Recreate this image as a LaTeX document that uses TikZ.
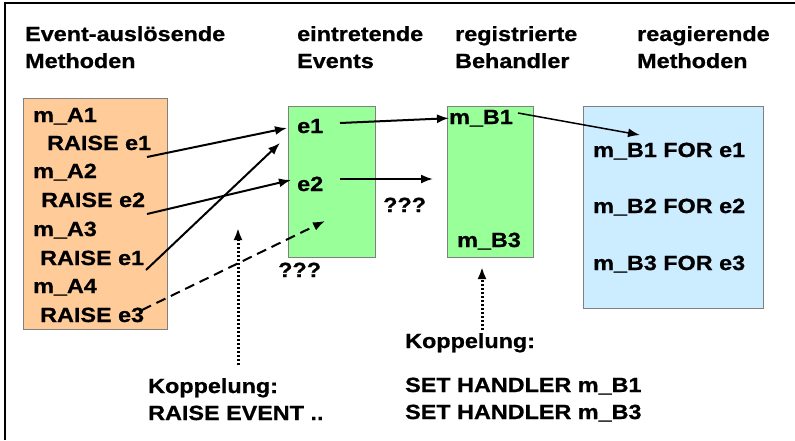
\documentclass[tikz,border=0pt]{standalone}
\usepackage{fontspec}
\setmainfont[FakeStretch=1.14, BoldFeatures={FakeBold=0.8}]{Liberation Sans}
\usetikzlibrary{arrows.meta}
\definecolor{methorange}{HTML}{FFCC99}
\definecolor{evgreen}{HTML}{99FF99}
\definecolor{reablue}{HTML}{CCECFF}
\tikzset{
  txt/.style={anchor=base west, inner sep=0pt, font=\fontsize{20.5}{24}\selectfont\bfseries},
  box/.style={draw=gray, line width=0.8pt, anchor=north west, inner sep=0pt},
  arr/.style={line width=2pt, -{Latex[length=12pt,width=9pt]}},
  dotarr/.style={arr, line width=3pt, dash pattern=on 2pt off 2pt},
}
\begin{document}
\begin{tikzpicture}[x=1pt, y=-1pt]
  \useasboundingbox (0,0) rectangle (795,440);
  \draw[line width=2pt] (5,440) -- (5,3) -- (795,3);
  %boxes
  \node[box, fill=methorange, minimum width=144, minimum height=231] (meth) at (23,98) {};
  \node[box, fill=evgreen, minimum width=87, minimum height=151] (events) at (288,106) {};
  \node[box, fill=evgreen, minimum width=86, minimum height=151] (handler) at (447,106) {};
  \node[box, fill=reablue, minimum width=180, minimum height=202] (react) at (583,106) {};
  %headings
  \node[txt] (h1a) at (25,41) {Event-auslösende};
  \node[txt] (h1b) at (25,68) {Methoden};
  \node[txt] (h2a) at (297,41) {eintretende};
  \node[txt] (h2b) at (297,68) {Events};
  \node[txt] (h3a) at (455,41) {registrierte};
  \node[txt] (h3b) at (455,68) {Behandler};
  \node[txt] (h4a) at (637,41) {reagierende};
  \node[txt] (h4b) at (637,68) {Methoden};
  %methods
  \node[txt] (mA1) at (33,122) {m\_A1};
  \node[txt] (rA1) at (47,150) {RAISE e1};
  \node[txt] (mA2) at (33,178) {m\_A2};
  \node[txt] (rA2) at (41,207) {RAISE e2};
  \node[txt] (mA3) at (33,236) {m\_A3};
  \node[txt] (rA3) at (40,265) {RAISE e1};
  \node[txt] (mA4) at (33,293) {m\_A4};
  \node[txt] (rA4) at (40,322) {RAISE e3};
  \node[txt] (e1) at (297,133) {e1};
  \node[txt] (e2) at (297,191) {e2};
  \node[txt] (mB1) at (449,124) {m\_B1};
  \node[txt] (mB3) at (457,247) {m\_B3};
  \node[txt] (fB1) at (593,157) {m\_B1 FOR e1};
  \node[txt] (fB2) at (593,213) {m\_B2 FOR e2};
  \node[txt] (fB3) at (593,270) {m\_B3 FOR e3};
  \node[txt] (q1) at (278,277) {???};
  \node[txt] (q2) at (383,212) {???};
  \node[txt] (k1a) at (148,393) {Koppelung:};
  \node[txt] (k1b) at (148,420) {RAISE EVENT ..};
  \node[txt] (k2a) at (405,348) {Koppelung:};
  \node[txt] (k2b) at (405,392) {SET HANDLER m\_B1};
  \node[txt] (k2c) at (405,419) {SET HANDLER m\_B3};
  %arrow ends
  \coordinate (t1) at (147,157);
  \coordinate (t2) at (147,214);
  \coordinate (t3) at (146,270);
  \coordinate (t4) at (142,310);
  \coordinate (h1) at (287,128);
  \coordinate (h2) at (291,180);
  \coordinate (h3) at (280,143);
  \coordinate (h4) at (325,221);
  \coordinate (e1t) at (340,123);
  \coordinate (e2t) at (340,179);
  \coordinate (e2h) at (433,179);
  \coordinate (b1t) at (518,113);
  \coordinate (b1h) at (640,135);
  \coordinate (k1t) at (238,365);
  \coordinate (k1h) at (238,228);
  \coordinate (k2t) at (482,330);
  \coordinate (k2h) at (482,267);
  \draw[arr] (t1) -- (h1);
  \draw[arr] (t2) -- (h2);
  \draw[arr] (t3) -- (h3);
  \draw[arr, dash pattern=on 10pt off 6pt] (t4) -- (h4);
  \draw[arr] (e1t) -- (mB1.west);
  \draw[arr] (e2t) -- (e2h);
  \draw[arr, line width=1.5pt] (b1t) -- (b1h);
  \draw[dotarr] (k1t) -- (k1h);
  \draw[dotarr] (k2t) -- (k2h);
\end{tikzpicture}
\end{document}
